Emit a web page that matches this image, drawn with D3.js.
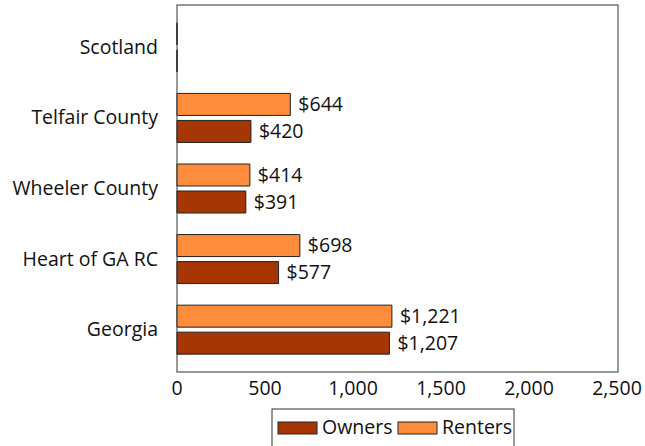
<!DOCTYPE html>
<html>
<head>
<meta charset="utf-8">
<script src="https://cdn.jsdelivr.net/npm/d3@7"></script>
<style>
  body { margin: 0; background: #fff; }
  text { font-family: "Open Sans", "Noto Sans", sans-serif; fill: #111; }
</style>
</head>
<body>
<div id="chart"></div>
<script>
const categories = ['Georgia', 'Heart of GA RC', 'Wheeler County', 'Telfair County', 'Scotland'];
const owners = [1207, 577, 391, 420, 0];
const renters = [1221, 698, 414, 644, 0];
const showLabel = [true, true, true, true, false];
const xTicks = [0, 500, 1000, 1500, 2000, 2500];

const width = 645, height = 446;
const plotLeft = 177, plotRight = 618, plotTop = 5, plotBottom = 372;
const fontSize = '19.5px';

const svg = d3.select('#chart')
  .append('svg')
    .attr('width', width)
    .attr('height', height);

const x = d3.scaleLinear()
  .domain([0, 2500])
  .range([plotLeft, 617]);

const y = d3.scalePoint()
  .domain(categories)
  .range([plotBottom, plotTop])
  .padding(0.6);

const fmt = d3.format(',');
const barH = 22, offset = 13.5;

const series = [
  { name: 'Owners', values: owners, color: '#a63603', dy: offset },
  { name: 'Renters', values: renters, color: '#fd8d3c', dy: -offset }
];

// frame
svg.append('rect')
  .attr('x', plotLeft)
  .attr('y', plotTop)
  .attr('width', plotRight - plotLeft)
  .attr('height', plotBottom - plotTop)
  .attr('fill', 'none')
  .attr('stroke', '#555')
  .attr('stroke-width', 1.2);

series.forEach(s => {
  const g = svg.append('g');
  // paths instead of rects so zero values still show their outline
  g.selectAll('path')
    .data(categories)
  .enter().append('path')
    .attr('d', (c, i) => {
      const y0 = y(c) + s.dy - barH / 2;
      return `M${x(0)},${y0}h${x(s.values[i]) - x(0)}v${barH}h${x(0) - x(s.values[i])}Z`;
    })
    .attr('fill', s.color)
    .attr('stroke', '#222')
    .attr('stroke-width', 1);

  g.selectAll('text')
    .data(categories.filter((c, i) => showLabel[i]))
  .enter().append('text')
    .attr('x', c => x(s.values[categories.indexOf(c)]) + 8)
    .attr('y', c => y(c) + s.dy + 6.5)
    .attr('font-size', fontSize)
    .text(c => '$' + fmt(s.values[categories.indexOf(c)]));
});

// y labels
svg.append('g')
  .selectAll('text')
  .data(categories)
.enter().append('text')
  .attr('x', plotLeft - 19)
  .attr('y', c => y(c) + 6.5)
  .attr('text-anchor', 'end')
  .attr('font-size', fontSize)
  .text(c => c);

// x tick labels
svg.append('g')
  .selectAll('text')
  .data(xTicks)
.enter().append('text')
  .attr('x', d => x(d))
  .attr('y', 395)
  .attr('text-anchor', 'middle')
  .attr('font-size', fontSize)
  .text(d => fmt(d));

// legend
const legend = svg.append('g');
legend.append('rect')
  .attr('x', 272)
  .attr('y', 409)
  .attr('width', 242)
  .attr('height', 42)
  .attr('fill', '#fff')
  .attr('stroke', '#333')
  .attr('stroke-width', 1);

const legendX = [278, 398];
series.forEach((s, i) => {
  legend.append('rect')
    .attr('x', legendX[i])
    .attr('y', 422)
    .attr('width', 39)
    .attr('height', 12)
    .attr('fill', s.color)
    .attr('stroke', '#222');
  legend.append('text')
    .attr('x', legendX[i] + 44)
    .attr('y', 434)
    .attr('font-size', fontSize)
    .text(s.name);
});
</script>
</body>
</html>
